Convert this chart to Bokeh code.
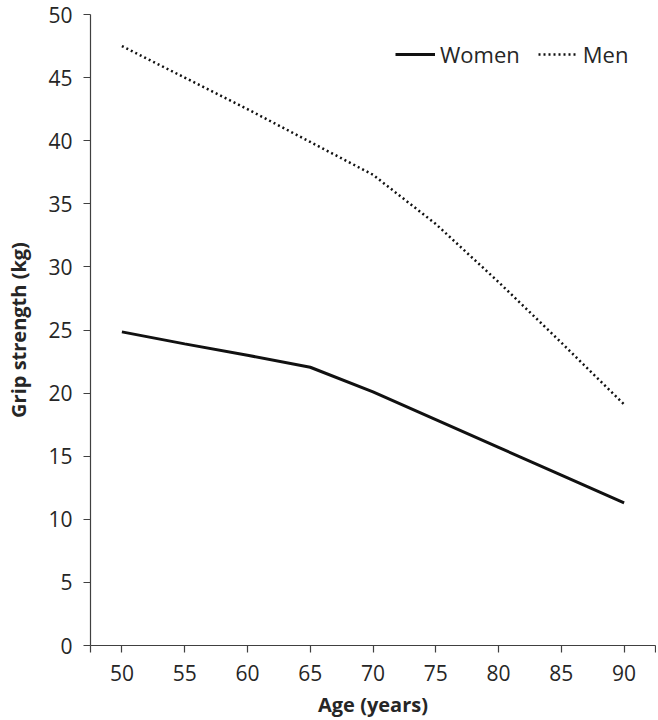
from bokeh.plotting import figure
from bokeh.models import Range1d, FixedTicker, Legend, LegendItem
from bokeh.embed import file_html
from bokeh.resources import INLINE

ages = [50, 55, 60, 65, 70, 75, 80, 85, 90]
women = [24.85, 23.9, 23.0, 22.05, 20.1, 17.9, 15.7, 13.5, 11.3]
men = [47.5, 45.0, 42.5, 39.9, 37.3, 33.4, 28.8, 24.0, 19.1]
x_ticks = [47.5, 50, 55, 60, 65, 70, 75, 80, 85, 90, 92.5]
y_ticks = [0, 5, 10, 15, 20, 25, 30, 35, 40, 45, 50]

FONT = "Open Sans"
AXC = "#404040"
TXT = "#262626"

p = figure(width=656, height=720, output_backend="svg", toolbar_location=None,
           x_range=Range1d(47.5, 92.5), y_range=Range1d(0, 50),
           min_border_left=90, min_border_right=1, min_border_top=14, min_border_bottom=75)
p.outline_line_color = None
p.grid.grid_line_color = None
p.background_fill_color = "white"

r_w = p.line(ages, women, line_color="#111111", line_width=3)
r_m = p.line(ages, men, line_color="#111111", line_width=2.5, line_dash="2 3")

for ax in (p.xaxis[0], p.yaxis[0]):
    ax.axis_line_color = AXC
    ax.axis_line_width = 1.2
    ax.major_tick_line_color = AXC
    ax.major_tick_line_width = 1.2
    ax.major_tick_in = 0
    ax.major_tick_out = 7
    ax.minor_tick_line_color = None
    ax.major_label_text_font = FONT
    ax.major_label_text_font_size = "21px"
    ax.major_label_text_color = TXT
    ax.axis_label_text_font = FONT
    ax.axis_label_text_font_size = "20px"
    ax.axis_label_text_font_style = "bold"
    ax.axis_label_text_color = TXT

p.xaxis.ticker = FixedTicker(ticks=x_ticks)
p.xaxis.major_label_overrides = {47.5: "", 92.5: ""}
p.xaxis.major_label_standoff = 12
p.xaxis.axis_label = "Age (years)"
p.xaxis.axis_label_standoff = 7

p.yaxis.ticker = FixedTicker(ticks=y_ticks)
p.yaxis.major_label_standoff = 11
p.yaxis.axis_label = "Grip strength (kg)"
p.yaxis.axis_label_standoff = 13

legend = Legend(items=[LegendItem(label="Women", renderers=[r_w]),
                       LegendItem(label="Men", renderers=[r_m])],
                location=(305, 576), orientation="horizontal")
legend.border_line_color = None
legend.background_fill_alpha = 0
legend.padding = 0
legend.margin = 0
legend.spacing = 18
legend.glyph_width = 40
legend.glyph_height = 20
legend.label_standoff = 5
legend.label_text_font = FONT
legend.label_text_font_size = "22px"
legend.label_text_color = TXT
p.add_layout(legend)

open("out.html", "w").write(file_html(p, INLINE))
